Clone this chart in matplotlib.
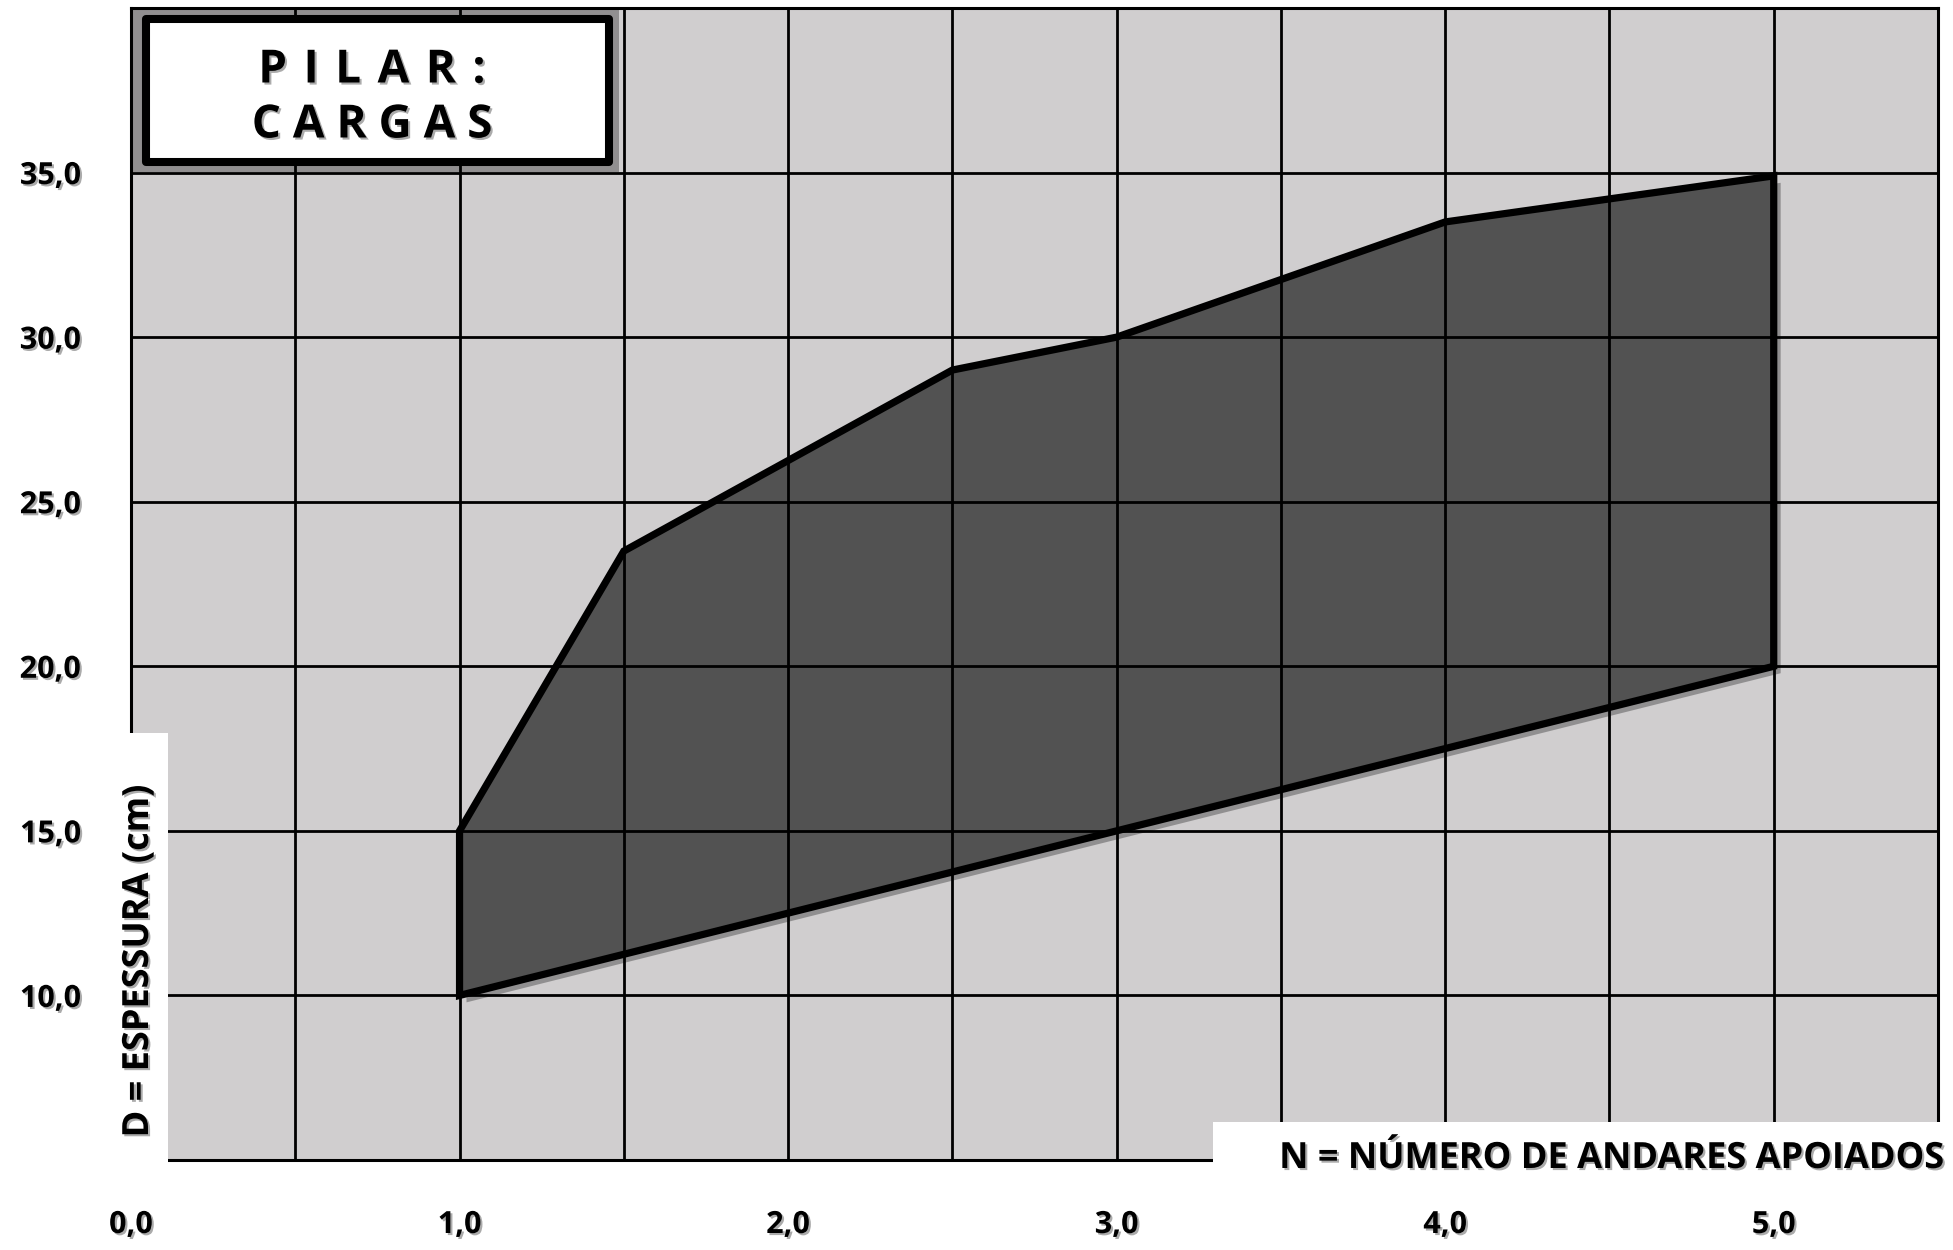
import matplotlib
matplotlib.use("Agg")
import matplotlib.pyplot as plt
import matplotlib.patheffects as pe
from matplotlib.patches import Polygon, Rectangle

# Upper and lower limits of pillar thickness vs. number of supported floors
upper_n = [1.0, 1.5, 2.5, 3.0, 4.0, 5.0]
upper_d = [15.0, 23.5, 29.0, 30.0, 33.5, 34.9]
lower_n = [1.0, 5.0]
lower_d = [10.0, 20.0]

x_ticks = [0.0, 1.0, 2.0, 3.0, 4.0, 5.0]
x_tick_labels = ["0,0", "1,0", "2,0", "3,0", "4,0", "5,0"]
y_ticks = [10.0, 15.0, 20.0, 25.0, 30.0, 35.0]
y_tick_labels = ["10,0", "15,0", "20,0", "25,0", "30,0", "35,0"]

title_lines = ["P\u200a I\u200a L\u200a A\u200a R\u200a :", "C A R G A S"]
x_label = "N = NÚMERO DE ANDARES APOIADOS"
y_label = "D = ESPESSURA (cm)"

W, H = 1953, 1250
FONT = ["Open Sans", "DejaVu Sans"]
BG = "#d0cecf"
FILL = "#525252"

shadow = [pe.withSimplePatchShadow(offset=(1.5, -1.5), shadow_rgbFace="#666666", alpha=0.55)]

fig = plt.figure(figsize=(W / 100, H / 100), dpi=100)
fig.patch.set_facecolor("white")


def fx(px):
    return px / W


def fy(py):
    return 1 - py / H


ax = fig.add_axes([fx(131), fy(1160), fx(1938) - fx(131), fy(8) - fy(1160)])
ax.set_facecolor(BG)
ax.set_xlim(0, 5.5)
ax.set_ylim(5, 40)

# Region between the two limit curves
verts = list(zip(upper_n, upper_d)) + list(zip(lower_n[::-1], lower_d[::-1]))
area = Polygon(verts, closed=True, facecolor=FILL, edgecolor="none", zorder=1,
               path_effects=[pe.SimplePatchShadow(offset=(5, -5), shadow_rgbFace="#444444", alpha=0.45),
                             pe.Normal()])
ax.add_patch(area)
outline = Polygon(verts, closed=True, facecolor="none", edgecolor="black",
                  linewidth=5.2, joinstyle="miter", zorder=3)
ax.add_patch(outline)

# Grid
ax.set_xticks(x_ticks)
ax.set_xticks([v + 0.5 for v in x_ticks], minor=True)
ax.set_yticks(y_ticks)
ax.grid(True, which="both", color="black", linewidth=2.0, zorder=2)
ax.set_axisbelow(False)
for s in ax.spines.values():
    s.set_color("black")
    s.set_linewidth(2.2)
    s.set_zorder(2.5)

ax.tick_params(which="both", length=0)
ax.set_xticklabels(x_tick_labels, fontfamily=FONT, fontweight="bold", fontsize=22)
ax.set_yticklabels(y_tick_labels, fontfamily=FONT, fontweight="bold", fontsize=22)
ax.tick_params(axis="x", pad=36)
ax.tick_params(axis="y", pad=36)
for lab in ax.get_xticklabels() + ax.get_yticklabels():
    lab.set_path_effects(shadow)

# White label boxes overlapping the plot edges
fig.add_artist(Rectangle((fx(118), fy(1166)), fx(168) - fx(118), fy(733) - fy(1166),
                         transform=fig.transFigure, facecolor="white", edgecolor="none", zorder=4))
fig.add_artist(Rectangle((fx(1213), fy(1166)), fx(1953) - fx(1213), fy(1122) - fy(1166),
                         transform=fig.transFigure, facecolor="white", edgecolor="none", zorder=4))

fig.text(fx(139), fy(961), y_label, rotation=90, ha="center", va="center",
         fontfamily=FONT, fontweight="bold", fontsize=26, zorder=6, path_effects=shadow)
fig.text(fx(1944), fy(1159), x_label, ha="right", va="center",
         fontfamily=FONT, fontweight="bold", fontsize=26, zorder=6, path_effects=shadow)

# Title box
fig.add_artist(Rectangle((fx(133), fy(172)), fx(619) - fx(133), fy(8) - fy(172),
                         transform=fig.transFigure, facecolor="black", alpha=0.3,
                         edgecolor="none", zorder=4))
fig.add_artist(Rectangle((fx(146), fy(162)), fx(609) - fx(146), fy(19) - fy(162),
                         transform=fig.transFigure, facecolor="white", edgecolor="black",
                         linewidth=5.8, joinstyle="round", zorder=5))
fig.text(fx(372), fy(70), title_lines[0], ha="center", va="center",
         fontfamily=FONT, fontweight="bold", fontsize=33, zorder=6, path_effects=shadow)
fig.text(fx(372), fy(125), title_lines[1], ha="center", va="center",
         fontfamily=FONT, fontweight="bold", fontsize=33, zorder=6, path_effects=shadow)

fig.savefig("out.png", dpi=100)
